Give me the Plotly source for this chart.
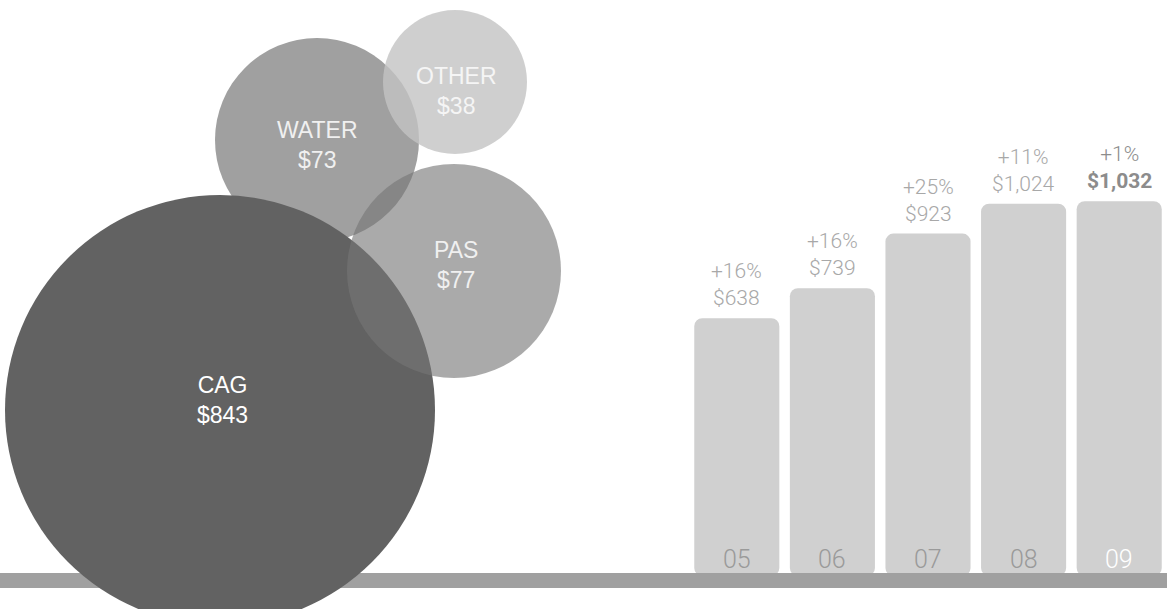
import plotly.graph_objects as go

# ---- data ----
segments = ["CAG", "WATER", "PAS", "OTHER"]
segment_revenue = [843, 73, 77, 38]

years = ["05", "06", "07", "08", "09"]
revenue = [638, 739, 923, 1024, 1032]
growth = ["+16%", "+16%", "+25%", "+11%", "+1%"]

# ---- bubble geometry / style (canvas pixel coordinates) ----
bubble_cx = {"CAG": 220, "WATER": 317, "PAS": 454, "OTHER": 455}
bubble_cy = {"CAG": 410, "WATER": 140, "PAS": 271, "OTHER": 82}
bubble_r = {"CAG": 215, "WATER": 102, "PAS": 107, "OTHER": 72}
bubble_label_xy = {"CAG": (222, 400), "WATER": (317, 145), "PAS": (456, 265), "OTHER": (456, 91)}
bubble_fill = {"CAG": "rgb(98,98,98)", "WATER": "rgb(160,160,160)",
               "PAS": "rgb(118,118,118)", "OTHER": "rgb(195,195,195)"}
bubble_opacity = {"CAG": 1.0, "WATER": 1.0, "PAS": 0.62, "OTHER": 0.8}
bubble_text = {"CAG": "rgba(255,255,255,1)", "WATER": "rgba(240,240,240,1)",
               "PAS": "rgba(240,240,240,1)", "OTHER": "rgba(245,245,245,1)"}
draw_order = ["WATER", "OTHER", "CAG", "PAS"]

W, H = 1167, 609
BAR_FLOOR = -231
PX_PER_UNIT = 0.2967

fig = go.Figure()

# bars (right part)
fig.add_trace(go.Bar(
    x=years,
    y=[v - BAR_FLOOR for v in revenue],
    base=BAR_FLOOR,
    xaxis="x2", yaxis="y2",
    marker=dict(color="rgb(208,208,208)", line=dict(width=0), cornerradius=8),
    hoverinfo="skip",
    showlegend=False,
))

# invisible trace to anchor the canvas axes
fig.add_trace(go.Scatter(x=[0, W], y=[0, H], mode="markers",
                         marker=dict(opacity=0), hoverinfo="skip", showlegend=False))

shapes = []
# baseline band
shapes.append(dict(type="rect", xref="x", yref="y", x0=0, x1=W, y0=573, y1=588,
                   fillcolor="rgb(160,160,160)", line=dict(width=0), layer="above"))
for s in draw_order:
    cx, cy, r = bubble_cx[s], bubble_cy[s], bubble_r[s]
    shapes.append(dict(type="circle", xref="x", yref="y",
                       x0=cx - r, x1=cx + r, y0=cy - r, y1=cy + r,
                       fillcolor=bubble_fill[s], opacity=bubble_opacity[s],
                       line=dict(width=0), layer="above"))

annotations = []
for s, v in zip(segments, segment_revenue):
    lx, ly = bubble_label_xy[s]
    annotations.append(dict(
        x=lx, y=ly, xref="x", yref="y", showarrow=False,
        text=f"{s}<br>${v}", align="center",
        font=dict(family="Liberation Sans, Arial, sans-serif", size=23, color=bubble_text[s]),
    ))

for i, (yr, v, g) in enumerate(zip(years, revenue, growth)):
    last = i == len(years) - 1
    if last:
        txt = f"{g}<br><b>${v:,}</b>"
        col = "#8c8c8c"
    else:
        txt = f"{g}<br>${v:,}"
        col = "#a8a8a8"
    annotations.append(dict(
        x=i, y=v, xref="x2", yref="y2", showarrow=False,
        yanchor="bottom", yshift=6, text=txt, align="center",
        font=dict(family="Roboto, Lato, sans-serif", size=21, color=col, weight=300),
    ))
    annotations.append(dict(
        x=i, y=BAR_FLOOR, xref="x2", yref="y2", showarrow=False,
        yanchor="middle", yshift=17, text=yr,
        font=dict(family="Roboto, Lato, sans-serif", size=25,
                  color="#ffffff" if last else "#9a9a9a", weight=300),
    ))

fig.update_layout(
    width=W, height=H,
    margin=dict(l=0, r=0, t=0, b=0),
    paper_bgcolor="white", plot_bgcolor="rgba(0,0,0,0)",
    xaxis=dict(domain=[0, 1], range=[0, W], visible=False, fixedrange=True),
    yaxis=dict(domain=[0, 1], range=[H, 0], visible=False, fixedrange=True),
    xaxis2=dict(domain=[689 / W, 1], anchor="y2", visible=False, type="category",
                range=[-0.5, 4.5]),
    yaxis2=dict(domain=[(H - 576) / H, 1], anchor="x2", visible=False,
                range=[BAR_FLOOR, BAR_FLOOR + 576 / PX_PER_UNIT]),
    bargap=0.11,
    shapes=shapes,
    annotations=annotations,
    showlegend=False,
)

fig.write_html("out.html",
               config={"displayModeBar": False},
               post_script="document.body.style.margin='0';document.body.style.overflow='hidden';")
